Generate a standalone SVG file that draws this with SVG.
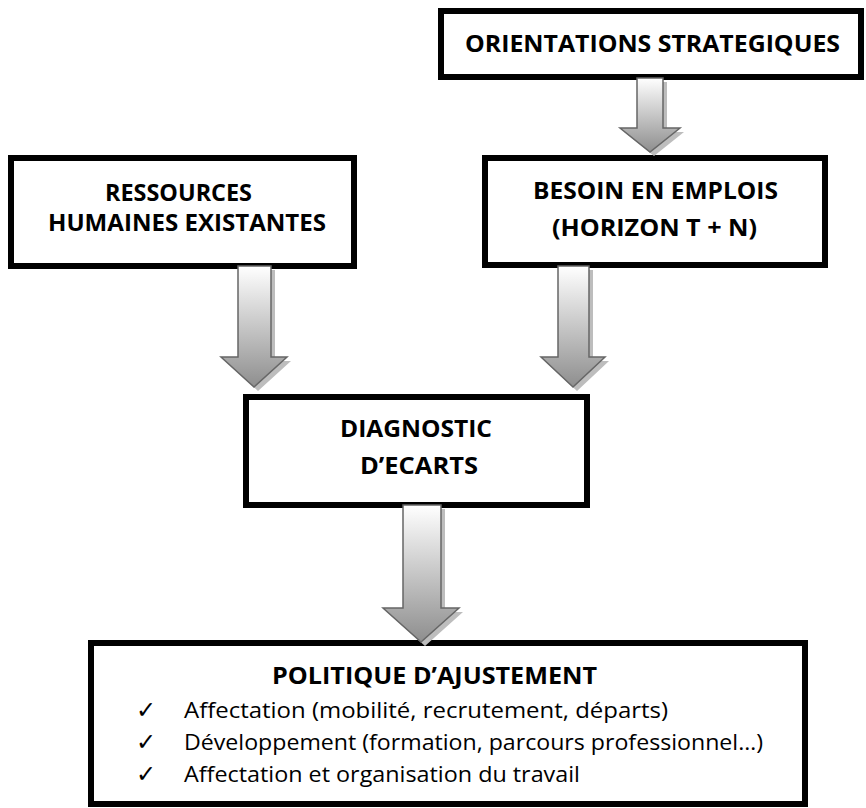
<svg xmlns="http://www.w3.org/2000/svg" width="866" height="808" viewBox="0 0 866 808">
<defs>
<linearGradient id="ag" x1="0" y1="0" x2="0" y2="1">
<stop offset="0" stop-color="#ffffff"/>
<stop offset="1" stop-color="#8e8e8e"/>
</linearGradient>
<style>
.box{fill:#fff;stroke:#000;stroke-width:6}
.t{font-family:"Open Sans","Liberation Sans",sans-serif;font-weight:bold;font-size:24px;fill:#000}
.r{font-family:"Open Sans","Liberation Sans",sans-serif;font-size:22px;fill:#000}
.ck{font-family:"DejaVu Sans",sans-serif;font-size:24px;fill:#000}
.arr{fill:url(#ag);stroke:#666;stroke-width:1.5;stroke-linejoin:miter}
.sh{fill:#bdbdbd}
</style>
</defs>
<rect width="866" height="808" fill="#fff"/>
<g id="orientations">
<rect class="box" x="441" y="11" width="420" height="66"/>
<text class="t" x="465" y="52" textLength="375" lengthAdjust="spacingAndGlyphs">ORIENTATIONS STRATEGIQUES</text>
</g>
<g id="ressources">
<rect class="box" x="11" y="158" width="343" height="108"/>
<text class="t" x="105" y="201" textLength="147" lengthAdjust="spacingAndGlyphs">RESSOURCES</text>
<text class="t" x="48" y="231" textLength="278" lengthAdjust="spacingAndGlyphs">HUMAINES EXISTANTES</text>
</g>
<g id="besoin">
<rect class="box" x="485" y="158" width="340" height="107"/>
<text class="t" x="533" y="199" textLength="245" lengthAdjust="spacingAndGlyphs">BESOIN EN EMPLOIS</text>
<text class="t" x="552" y="236" textLength="205" lengthAdjust="spacingAndGlyphs">(HORIZON T + N)</text>
</g>
<g id="diagnostic">
<rect class="box" x="246" y="397" width="341" height="108"/>
<text class="t" x="340" y="437" textLength="152" lengthAdjust="spacingAndGlyphs">DIAGNOSTIC</text>
<text class="t" x="360" y="474" textLength="118" lengthAdjust="spacingAndGlyphs">D’ECARTS</text>
</g>
<g id="politique">
<rect class="box" x="91" y="643" width="714" height="161"/>
<text class="t" x="272" y="684" textLength="325" lengthAdjust="spacingAndGlyphs">POLITIQUE D’AJUSTEMENT</text>
<text class="ck" x="136" y="718">✓</text>
<text class="r" x="184" y="718" textLength="484" lengthAdjust="spacingAndGlyphs">Affectation (mobilité, recrutement, départs)</text>
<text class="ck" x="136" y="750">✓</text>
<text class="r" x="184" y="750" textLength="579" lengthAdjust="spacingAndGlyphs">Développement (formation, parcours professionnel…)</text>
<text class="ck" x="136" y="782">✓</text>
<text class="r" x="184" y="782" textLength="396" lengthAdjust="spacingAndGlyphs">Affectation et organisation du travail</text>
</g>
<g id="connectors">
<g id="arrow-orient-besoin">
<path class="sh" transform="translate(4,4)" d="M637,78 H663 V128 H680 L650,152 L620,128 H637 Z"/>
<path class="arr" d="M637,78 H663 V128 H680 L650,152 L620,128 H637 Z"/>
</g>
<g id="arrow-ress-diag">
<path class="sh" transform="translate(4,4)" d="M238,266 H271 V357 H287 L254,387 L221,357 H238 Z"/>
<path class="arr" d="M238,266 H271 V357 H287 L254,387 L221,357 H238 Z"/>
</g>
<g id="arrow-besoin-diag">
<path class="sh" transform="translate(4,4)" d="M558,266 H589 V357 H605 L573,387 L541,357 H558 Z"/>
<path class="arr" d="M558,266 H589 V357 H605 L573,387 L541,357 H558 Z"/>
</g>
<g id="arrow-diag-politique">
<path class="sh" transform="translate(4,4)" d="M403,505 H441 V608 H459 L421,642 L383,608 H403 Z"/>
<path class="arr" d="M403,505 H441 V608 H459 L421,642 L383,608 H403 Z"/>
</g>
</g>
</svg>
